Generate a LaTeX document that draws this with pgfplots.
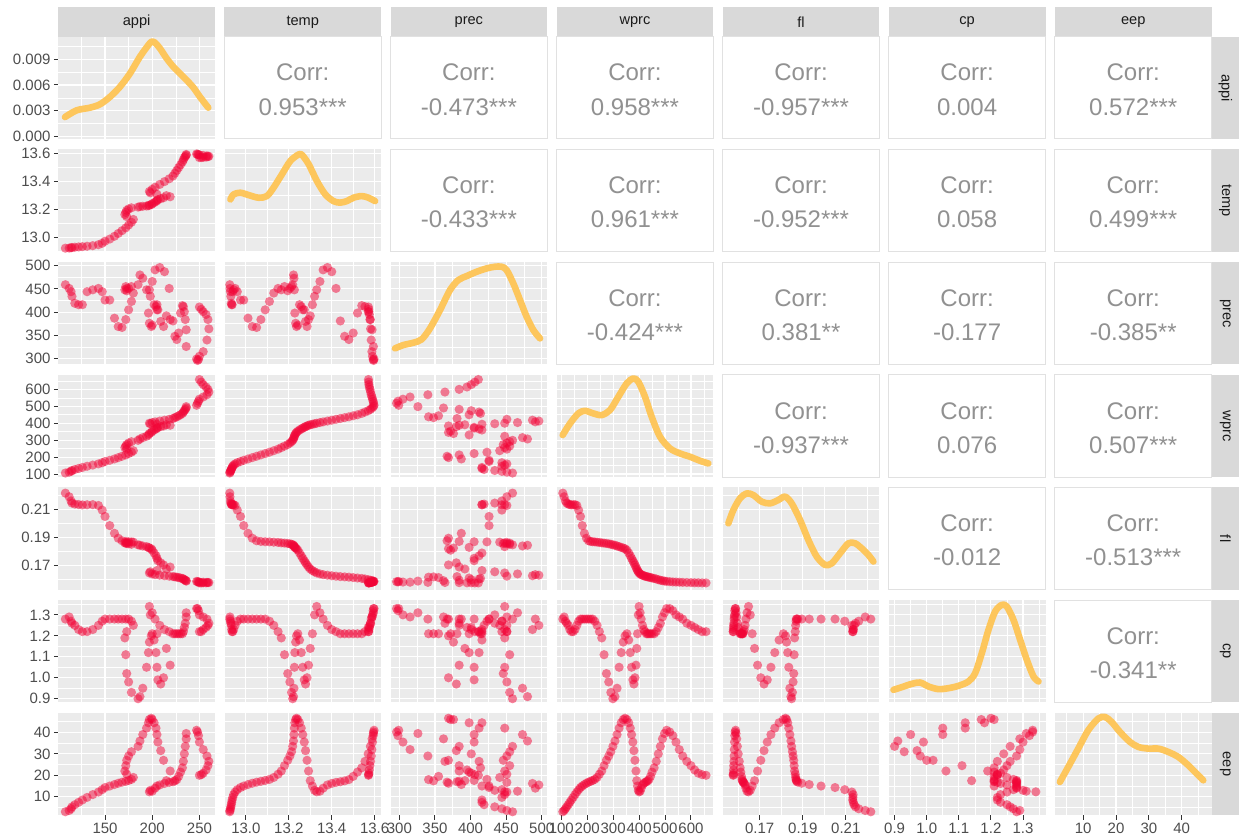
\documentclass[border=0pt]{standalone}
\usepackage{pgfplots}
\pgfplotsset{compat=1.18}
\usepackage{pgfplotstable}
\usepackage{fontspec}
\setmainfont{Liberation Sans}

\definecolor{panelbg}{RGB}{235,235,235}
\definecolor{stripbg}{RGB}{217,217,217}
\definecolor{striptx}{RGB}{26,26,26}
\definecolor{ticklab}{RGB}{77,77,77}
\definecolor{tickcol}{RGB}{51,51,51}
\definecolor{corrcol}{RGB}{145,145,145}
\definecolor{bordercol}{RGB}{225,225,225}
\definecolor{ptcol}{RGB}{242,5,55}
\definecolor{denscol}{RGB}{253,198,92}

\pgfplotstableread{
appi temp prec wprc fl cp eep
108 12.925 459 106 0.2216 1.28 3.0
112 12.926 451 111 0.2190 1.29 3.6
114 12.928 444 116 0.2160 1.27 4.4
115 12.930 434 121 0.2145 1.26 5.3
118 12.932 419 127 0.2138 1.25 6.3
122 12.934 416 133 0.2135 1.23 7.4
126 12.936 416 139 0.2132 1.22 8.5
131 12.939 444 146 0.2133 1.22 9.7
137 12.943 448 153 0.2134 1.23 11.0
143 12.950 451 160 0.2128 1.25 12.2
147 12.960 444 167 0.2095 1.27 13.3
150 12.975 426 174 0.2050 1.28 14.3
155 12.990 426 181 0.1985 1.28 15.0
160 13.010 387 189 0.1930 1.28 15.7
164 13.030 369 197 0.1895 1.28 16.3
168 13.050 367 205 0.1877 1.28 16.8
172 13.070 384 213 0.1872 1.28 17.2
175 13.090 405 221 0.1870 1.28 17.6
178 13.110 423 229 0.1869 1.27 18.1
180 13.130 441 238 0.1867 1.25 19.0
173 13.150 451 247 0.1865 1.22 20.5
171 13.165 448 256 0.1862 1.19 22.0
172 13.180 455 265 0.1860 1.11 24.5
173 13.195 446 274 0.1858 1.02 27.0
175 13.205 451 283 0.1855 0.98 29.0
178 13.213 455 291 0.1852 0.93 31.0
185 13.218 459 299 0.1848 0.90 33.5
187 13.222 480 307 0.1845 0.91 36.0
190 13.224 473 315 0.1840 0.95 39.0
194 13.226 448 323 0.1835 1.05 42.0
196 13.228 398 331 0.1830 1.12 44.5
197 13.232 376 339 0.1825 1.17 46.0
199 13.236 369 346 0.1820 1.20 46.6
200 13.242 372 353 0.1810 1.21 46.0
202 13.250 416 360 0.1790 1.18 44.5
204 13.258 412 366 0.1770 1.12 42.0
205 13.265 405 371 0.1752 1.05 39.0
206 13.272 405 376 0.1735 0.99 35.5
209 13.278 380 380 0.1720 0.97 31.5
212 13.285 369 384 0.1705 1.00 27.0
219 13.292 384 388 0.1690 1.06 22.0
215 13.300 392 391 0.1676 1.14 17.5
205 13.310 416 394 0.1665 1.21 15.0
198 13.320 434 397 0.1656 1.30 13.0
197 13.330 448 400 0.1648 1.34 12.3
200 13.345 466 404 0.1641 1.31 12.6
203 13.360 491 408 0.1636 1.28 14.0
208 13.380 496 413 0.1632 1.25 15.5
213 13.400 487 418 0.1628 1.23 16.2
218 13.420 451 423 0.1625 1.22 16.7
222 13.440 381 428 0.1622 1.21 17.0
224 13.460 348 433 0.1620 1.21 17.4
226 13.480 341 438 0.1618 1.21 18.0
228 13.500 355 444 0.1615 1.21 19.5
230 13.520 398 450 0.1612 1.21 21.5
232 13.540 414 458 0.1609 1.21 23.5
233 13.555 412 466 0.1605 1.22 26.5
234 13.570 401 474 0.1600 1.24 30.0
235 13.580 384 482 0.1596 1.26 33.5
236 13.588 362 490 0.1593 1.29 37.0
236 13.594 326 498 0.1590 1.31 39.5
247 13.597 299 506 0.1588 1.33 41.0
248 13.595 296 518 0.1586 1.33 40.2
249 13.593 298 530 0.1584 1.32 38.5
250 13.590 305 542 0.1583 1.30 35.5
254 13.587 315 555 0.1582 1.29 32.0
258 13.584 340 568 0.1581 1.28 29.0
260 13.581 364 584 0.1580 1.26 26.5
259 13.578 384 600 0.1579 1.25 24.5
257 13.575 395 614 0.1578 1.24 22.5
254 13.573 401 628 0.1578 1.23 21.0
252 13.572 406 643 0.1577 1.22 20.3
250 13.571 411 658 0.1577 1.22 20.0
}\datatab

\pgfplotsset{
  panel/.style={
    scale only axis, width=78.35pt, height=51.15pt, anchor=north west,
    axis background/.style={fill=panelbg},
    axis line style={draw=none},
    grid=both,
    major grid style={white, line width=0.55pt},
    minor grid style={white, line width=0.28pt},
    tick align=outside, major tick length=2.2pt, minor tick length=0pt,
    xtick pos=bottom, ytick pos=left,
    xtick style={draw=none}, ytick style={draw=none},
    xticklabel={\relax}, yticklabel={\relax},
    scaled ticks=false,
    ticklabel style={font=\fontsize{7.5}{9}\selectfont, text=ticklab},
    xticklabel style={inner sep=1.5pt},
    yticklabel style={inner sep=1.5pt},
  },
  showx/.style={xtick style={draw=tickcol, line width=0.5pt}},
  showy/.style={ytick style={draw=tickcol, line width=0.5pt}},
  pts/.style={only marks, mark=*, mark size=2.3pt, color=ptcol, mark options={fill=ptcol, draw=ptcol, line width=0pt, fill opacity=0.5, draw opacity=0}},
  dens/.style={denscol, line width=3.3pt, smooth, line cap=round, line join=round},
  xv appi/.style={xmin=100.5,xmax=266.5,xtick={150,200,250},minor xtick={125,175,225}},
  xl appi/.style={showx,xticklabels={150,200,250}},
  xv temp/.style={xmin=12.90,xmax=13.63,xtick={13.0,13.2,13.4,13.6},minor xtick={12.9,13.1,13.3,13.5}},
  xl temp/.style={showx,xticklabels={13.0,13.2,13.4,13.6}},
  yv temp/.style={ymin=12.90,ymax=13.63,ytick={13.0,13.2,13.4,13.6},minor ytick={12.9,13.1,13.3,13.5}},
  yl temp/.style={showy,yticklabels={13.0,13.2,13.4,13.6}},
  xv prec/.style={xmin=287.5,xmax=507.7,xtick={300,350,400,450,500},minor xtick={325,375,425,475}},
  xl prec/.style={showx,xticklabels={300,350,400,450,500}},
  yv prec/.style={ymin=287.5,ymax=507.7,ytick={300,350,400,450,500},minor ytick={325,375,425,475}},
  yl prec/.style={showy,yticklabels={300,350,400,450,500}},
  xv wprc/.style={xmin=82,xmax=686,xtick={100,200,300,400,500,600},minor xtick={150,250,350,450,550,650}},
  xl wprc/.style={showx,xticklabels={100,200,300,400,500,600}},
  yv wprc/.style={ymin=82,ymax=686,ytick={100,200,300,400,500,600},minor ytick={150,250,350,450,550,650}},
  yl wprc/.style={showy,yticklabels={100,200,300,400,500,600}},
  xv fl/.style={xmin=0.1528,xmax=0.2256,xtick={0.17,0.19,0.21},minor xtick={0.16,0.18,0.20,0.22}},
  xl fl/.style={showx,xticklabels={0.17,0.19,0.21}},
  yv fl/.style={ymin=0.1528,ymax=0.2256,ytick={0.17,0.19,0.21},minor ytick={0.16,0.18,0.20,0.22}},
  yl fl/.style={showy,yticklabels={0.17,0.19,0.21}},
  xv cp/.style={xmin=0.882,xmax=1.37,xtick={0.9,1.0,1.1,1.2,1.3},minor xtick={0.95,1.05,1.15,1.25,1.35}},
  xl cp/.style={showx,xticklabels={0.9,1.0,1.1,1.2,1.3}},
  yv cp/.style={ymin=0.882,ymax=1.37,ytick={0.9,1.0,1.1,1.2,1.3},minor ytick={0.95,1.05,1.15,1.25,1.35}},
  yl cp/.style={showy,yticklabels={0.9,1.0,1.1,1.2,1.3}},
  xv eep/.style={xmin=1.4,xmax=49.1,xtick={10,20,30,40},minor xtick={5,15,25,35,45}},
  xl eep/.style={showx,xticklabels={10,20,30,40}},
  yv eep/.style={ymin=1.4,ymax=49.1,ytick={10,20,30,40},minor ytick={5,15,25,35,45}},
  yl eep/.style={showy,yticklabels={10,20,30,40}},
  yv dens/.style={ymin=-0.00033,ymax=0.01166,ytick={0,0.003,0.006,0.009},minor ytick={0.0015,0.0045,0.0075,0.0105}},
  yl dens/.style={showy,yticklabels={0.000,0.003,0.006,0.009}},
}

\newcommand{\lowp}[5]{%
\begin{axis}[panel, at={({29.15pt+#1*83.05pt},{-18.35pt-#2*56.35pt})}, xv #3, yv #4, #5]
\addplot[pts] table[x=#3,y=#4]{\datatab};
\end{axis}}

\newcommand{\diagp}[6]{%
\begin{axis}[panel, at={({29.15pt+#1*83.05pt},{-18.35pt-#2*56.35pt})}, xv #3, yv #4, #5]
\addplot[dens] coordinates {#6};
\end{axis}}

\newcommand{\upp}[3]{%
\draw[draw=bordercol, fill=white, line width=0.5pt] ({29.15pt+#1*83.05pt},{-18.35pt-#2*56.35pt}) rectangle ({29.15pt+#1*83.05pt+78.35pt},{-18.35pt-#2*56.35pt-51.15pt});
\node[text=corrcol, font=\fontsize{12}{14}\selectfont, inner sep=0pt] at ({29.15pt+#1*83.05pt+39.175pt},{-18.35pt-#2*56.35pt-25.575pt+7.6pt}) {Corr:};
\node[text=corrcol, font=\fontsize{12}{14}\selectfont, inner sep=0pt] at ({29.15pt+#1*83.05pt+39.175pt},{-18.35pt-#2*56.35pt-25.575pt-9.5pt}) {#3};}

\newcommand{\tstrip}[2]{%
\fill[stripbg] ({29.15pt+#1*83.05pt},-3.65pt) rectangle ({29.15pt+#1*83.05pt+78.35pt},-18.35pt);
\node[text=striptx, font=\fontsize{7.3}{9}\selectfont, inner sep=0pt] at ({29.15pt+#1*83.05pt+39.175pt},-11pt) {#2};}

\newcommand{\rstrip}[2]{%
\fill[stripbg] (605.8pt,{-18.35pt-#1*56.35pt}) rectangle (619.5pt,{-18.35pt-#1*56.35pt-51.15pt});
\node[text=striptx, font=\fontsize{7.3}{9}\selectfont, inner sep=0pt, rotate=-90] at (612.65pt,{-18.35pt-#1*56.35pt-25.575pt}) {#2};}

\begin{document}
\begin{tikzpicture}
\useasboundingbox (0pt,0pt) rectangle (619.5pt,-419.5pt);

\tstrip{0}{appi}\tstrip{1}{temp}\tstrip{2}{prec}\tstrip{3}{wprc}\tstrip{4}{fl}\tstrip{5}{cp}\tstrip{6}{eep}
\rstrip{0}{appi}\rstrip{1}{temp}\rstrip{2}{prec}\rstrip{3}{wprc}\rstrip{4}{fl}\rstrip{5}{cp}\rstrip{6}{eep}

% row 0
\diagp{0}{0}{appi}{dens}{yl dens}{(107.6,0.00224) (119.9,0.00303) (134.1,0.00334) (144.6,0.00373) (155.2,0.00460) (165.8,0.00578) (176.4,0.00735) (187.0,0.00931) (195.9,0.01068) (199.4,0.01108) (202.9,0.01096) (208.2,0.01029) (215.3,0.00911) (222.4,0.00813) (229.4,0.00735) (236.5,0.00656) (243.6,0.00570) (250.6,0.00460) (259.4,0.00334)}
\upp{1}{0}{0.953***}\upp{2}{0}{-0.473***}\upp{3}{0}{0.958***}\upp{4}{0}{-0.957***}\upp{5}{0}{0.004}\upp{6}{0}{0.572***}

% row 1
\lowp{0}{1}{appi}{temp}{yl temp}
\diagp{1}{1}{temp}{temp}{}{(12.928,13.273) (12.943,13.309) (12.974,13.321) (13.013,13.304) (13.060,13.285) (13.098,13.297) (13.129,13.357) (13.168,13.452) (13.207,13.547) (13.246,13.594) (13.262,13.590) (13.293,13.523) (13.331,13.404) (13.370,13.309) (13.408,13.261) (13.439,13.250) (13.470,13.261) (13.501,13.285) (13.540,13.297) (13.571,13.285) (13.602,13.261)}
\upp{2}{1}{-0.433***}\upp{3}{1}{0.961***}\upp{4}{1}{-0.952***}\upp{5}{1}{0.058}\upp{6}{1}{0.499***}

% row 2
\lowp{0}{2}{appi}{prec}{yl prec}
\lowp{1}{2}{temp}{prec}{}
\diagp{2}{2}{prec}{prec}{}{(293.8,321.9) (305.5,329.1) (319.6,334.1) (331.3,341.3) (343.0,365.0) (357.1,404.4) (371.1,447.5) (382.8,469.0) (394.5,477.6) (408.6,486.9) (422.6,494.1) (434.3,497.7) (443.7,497.7) (450.7,490.5) (460.1,461.8) (469.5,425.9) (478.8,390.1) (488.2,361.4) (497.6,343.4)}
\upp{3}{2}{-0.424***}\upp{4}{2}{0.381**}\upp{5}{2}{-0.177}\upp{6}{2}{-0.385**}

% row 3
\lowp{0}{3}{appi}{wprc}{yl wprc}
\lowp{1}{3}{temp}{wprc}{}
\lowp{2}{3}{prec}{wprc}{}
\diagp{3}{3}{wprc}{wprc}{}{(105.4,329.9) (133.7,398.8) (165.8,457.9) (191.5,473.5) (223.6,457.9) (255.7,448.0) (287.8,477.5) (320.0,556.2) (352.1,634.9) (377.8,664.4) (397.1,644.7) (422.8,556.2) (448.5,438.1) (480.6,320.1) (519.2,251.2) (557.7,221.7) (596.3,202.0) (634.8,178.4) (666.9,162.7)}
\upp{4}{3}{-0.937***}\upp{5}{3}{0.076}\upp{6}{3}{0.507***}

% row 4
\lowp{0}{4}{appi}{fl}{yl fl}
\lowp{1}{4}{temp}{fl}{}
\lowp{2}{4}{prec}{fl}{}
\lowp{3}{4}{wprc}{fl}{}
\diagp{4}{4}{fl}{fl}{}{(0.15543,0.2001) (0.15776,0.2096) (0.16085,0.2179) (0.16395,0.2214) (0.16705,0.2202) (0.17092,0.2155) (0.17480,0.2143) (0.17867,0.2167) (0.18177,0.2191) (0.18486,0.2143) (0.18874,0.2025) (0.19261,0.1882) (0.19648,0.1764) (0.20035,0.1705) (0.20345,0.1716) (0.20732,0.1788) (0.21120,0.1859) (0.21429,0.1859) (0.21739,0.1823) (0.22049,0.1776) (0.22281,0.1729)}
\upp{5}{4}{-0.012}\upp{6}{4}{-0.513***}

% row 5
\lowp{0}{5}{appi}{cp}{yl cp}
\lowp{1}{5}{temp}{cp}{}
\lowp{2}{5}{prec}{cp}{}
\lowp{3}{5}{wprc}{cp}{}
\lowp{4}{5}{fl}{cp}{}
\diagp{5}{5}{cp}{cp}{}{(0.8965,0.9424) (0.9225,0.9551) (0.9536,0.9710) (0.9796,0.9774) (1.0056,0.9583) (1.0367,0.9456) (1.0679,0.9503) (1.0990,0.9615) (1.1301,0.9821) (1.1509,1.0219) (1.1717,1.1173) (1.1924,1.2285) (1.2132,1.3160) (1.2340,1.3478) (1.2495,1.3398) (1.2703,1.2762) (1.2911,1.1808) (1.3118,1.0855) (1.3326,1.0060) (1.3482,0.9821)}
\upp{6}{5}{-0.341**}

% row 6
\lowp{0}{6}{appi}{eep}{xl appi, yl eep}
\lowp{1}{6}{temp}{eep}{xl temp}
\lowp{2}{6}{prec}{eep}{xl prec}
\lowp{3}{6}{wprc}{eep}{xl wprc}
\lowp{4}{6}{fl}{eep}{xl fl}
\lowp{5}{6}{cp}{eep}{xl cp}
\diagp{6}{6}{eep}{eep}{xl eep}{(2.92,16.90) (5.46,23.90) (8.50,32.45) (11.55,41.01) (14.59,46.46) (16.62,47.23) (18.65,44.90) (21.19,40.23) (24.24,35.57) (26.77,33.23) (29.82,32.45) (32.86,32.45) (35.91,30.90) (38.95,28.56) (42.00,24.67) (44.53,20.78) (46.56,17.67)}

\end{tikzpicture}
\end{document}
